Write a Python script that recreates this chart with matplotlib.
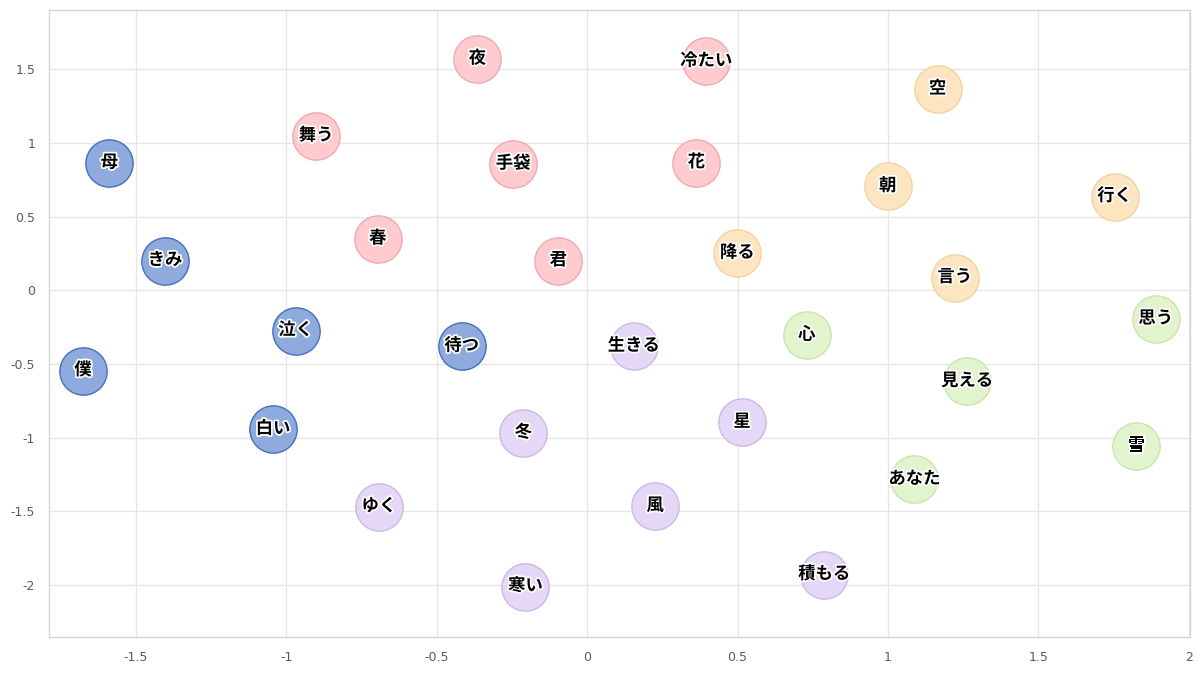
import matplotlib
matplotlib.use("Agg")
import matplotlib.pyplot as plt
import matplotlib.patheffects as pe

plt.rcParams['font.family'] = ['Noto Sans CJK JP', 'DejaVu Sans']

# ---- data ----
blue_words = ["母", "きみ", "泣く", "僕", "白い", "待つ"]
blue_x = [-1.588, -1.403, -0.969, -1.676, -1.044, -0.417]
blue_y = [0.862, 0.201, -0.274, -0.545, -0.943, -0.380]

pink_words = ["夜", "冷たい", "舞う", "手袋", "花", "春", "君"]
pink_x = [-0.365, 0.396, -0.901, -0.246, 0.363, -0.696, -0.096]
pink_y = [1.568, 1.552, 1.046, 0.856, 0.865, 0.348, 0.200]

orange_words = ["空", "朝", "行く", "降る", "言う"]
orange_x = [1.165, 0.999, 1.753, 0.499, 1.222]
orange_y = [1.364, 0.704, 0.636, 0.251, 0.086]

green_words = ["心", "思う", "見える", "雪", "あなた"]
green_x = [0.730, 1.890, 1.263, 1.826, 1.088]
green_y = [-0.305, -0.195, -0.618, -1.057, -1.283]

purple_words = ["生きる", "冬", "星", "ゆく", "風", "積もる", "寒い"]
purple_x = [0.155, -0.212, 0.515, -0.692, 0.226, 0.788, -0.205]
purple_y = [-0.380, -0.968, -0.896, -1.468, -1.464, -1.928, -2.009]

x_ticks = [-1.5, -1, -0.5, 0, 0.5, 1, 1.5, 2]
x_tick_labels = ["-1.5", "-1", "-0.5", "0", "0.5", "1", "1.5", "2"]
y_ticks = [-2, -1.5, -1, -0.5, 0, 0.5, 1, 1.5]
y_tick_labels = ["-2", "-1.5", "-1", "-0.5", "0", "0.5", "1", "1.5"]

groups = [
    (blue_words, blue_x, blue_y, "#8faadc", "#4670bd"),
    (pink_words, pink_x, pink_y, "#ffcbcf", "#eeaab1"),
    (orange_words, orange_x, orange_y, "#fde5c2", "#f3d49f"),
    (green_words, green_x, green_y, "#e2f4ce", "#c8e6aa"),
    (purple_words, purple_x, purple_y, "#e4d8f6", "#ccb9e6"),
]

fig = plt.figure(figsize=(12, 6.75), dpi=100)
ax = fig.add_axes([0.0408, 0.0559, 0.9509, 0.9300])

for words, xs, ys, fc, ec in groups:
    ax.scatter(xs, ys, s=1160, facecolor=fc, edgecolor=ec, linewidth=1.0, zorder=3)
    for w, x, y in zip(words, xs, ys):
        ax.annotate(w, (x, y), xytext=(0, 0.5), textcoords="offset points",
                    ha="center", va="center", fontsize=12.5, fontweight="bold",
                    color="black", zorder=4,
                    path_effects=[pe.withStroke(linewidth=2.5, foreground="white")])

ax.set_xlim(-1.789, 2.004)
ax.set_ylim(-2.353, 1.904)
ax.set_xticks(x_ticks)
ax.set_xticklabels(x_tick_labels)
ax.set_yticks(y_ticks)
ax.set_yticklabels(y_tick_labels)
ax.tick_params(length=0, colors="#595959", labelsize=9, pad=10)
for lab in ax.get_xticklabels() + ax.get_yticklabels():
    lab.set_family(['DejaVu Sans'])
ax.grid(True, color="#e6e6e6", linewidth=1.0, zorder=0)
ax.set_axisbelow(True)
for side in ["left", "bottom", "top", "right"]:
    ax.spines[side].set_color("#d4d4d4")
    ax.spines[side].set_linewidth(1.0)

fig.savefig("out.png", dpi=100)
